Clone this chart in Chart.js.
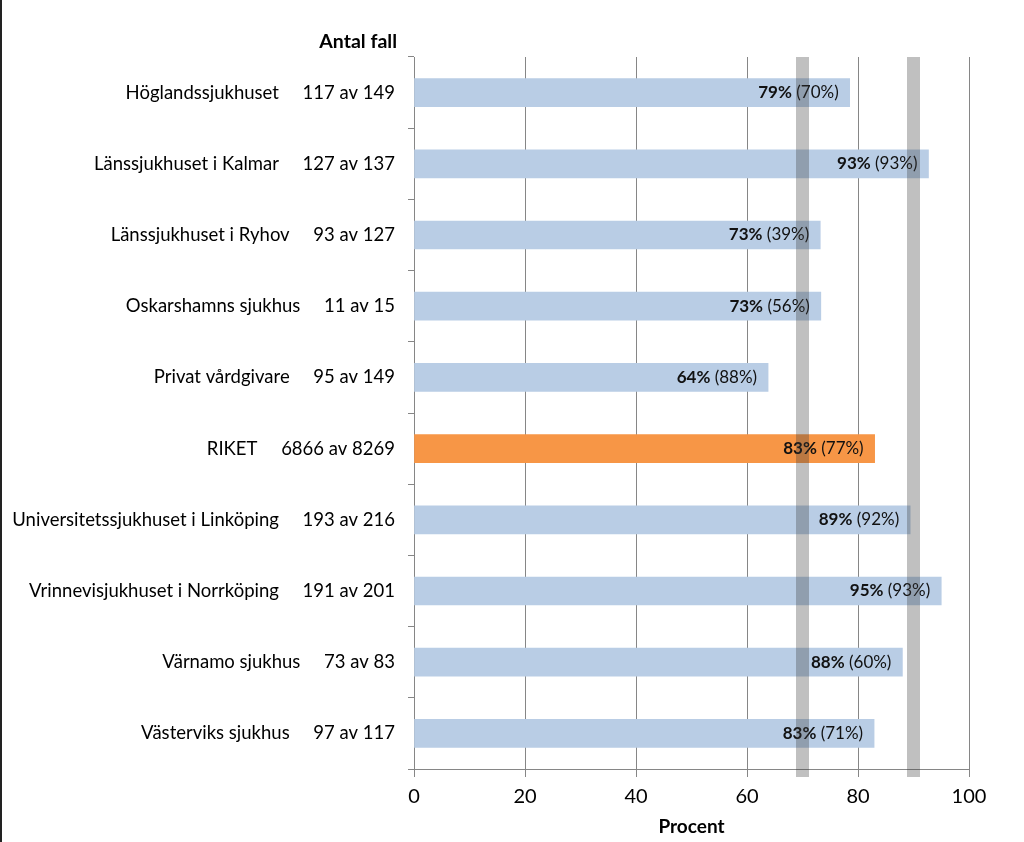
<!DOCTYPE html>
<html>
<head>
<meta charset="utf-8">
<script src="https://cdn.jsdelivr.net/npm/chart.js@4"></script>
<style>
  html, body { margin: 0; padding: 0; background: #fff; }
  #wrap { width: 1024px; height: 842px; position: relative; box-sizing: border-box; border-left: 2px solid #222; }
</style>
</head>
<body>
<div id="wrap"><canvas id="c" width="1022" height="842"></canvas></div>
<script>
var units = ["Höglandssjukhuset", "Länssjukhuset i Kalmar", "Länssjukhuset i Ryhov", "Oskarshamns sjukhus",
  "Privat vårdgivare", "RIKET", "Universitetssjukhuset i Linköping", "Vrinnevisjukhuset i Norrköping",
  "Värnamo sjukhus", "Västerviks sjukhus"];
var cases = ["117 av 149", "127 av 137", "93 av 127", "11 av 15", "95 av 149", "6866 av 8269",
  "193 av 216", "191 av 201", "73 av 83", "97 av 117"];
var percent = [78.5, 92.7, 73.2, 73.3, 63.8, 83.0, 89.4, 95.0, 88.0, 82.9];
var shownPct = [79, 93, 73, 73, 64, 83, 89, 95, 88, 83];
var prevPct = [70, 93, 39, 56, 88, 77, 92, 93, 60, 71];
var targets = [70, 90];
var xTicks = [0, 20, 40, 60, 80, 100];

var FONT = "Lato, 'Open Sans', sans-serif";
var labels = units.map(function (u, i) { return u + "     " + cases[i]; });
var colors = units.map(function (u) { return u === "RIKET" ? "#f79646" : "#b9cde5"; });

// text at the end of each bar: bold value + (previous)
var barText = {
  id: "barText",
  afterDatasetsDraw: function (chart) {
    var ctx = chart.ctx;
    var meta = chart.getDatasetMeta(0);
    ctx.save();
    ctx.textBaseline = "middle";
    ctx.fillStyle = "#111";
    meta.data.forEach(function (bar, i) {
      var a = shownPct[i] + "%";
      var b = " (" + prevPct[i] + "%)";
      ctx.font = "17px " + FONT;
      var wb = ctx.measureText(b).width;
      ctx.font = "bold 17px " + FONT;
      var wa = ctx.measureText(a).width;
      var xEnd = bar.x - 11;
      ctx.textAlign = "left";
      ctx.fillText(a, xEnd - wb - wa, bar.y);
      ctx.font = "17px " + FONT;
      ctx.fillText(b, xEnd - wb, bar.y);
    });
    ctx.restore();
  }
};

// grey target bands + header
var extras = {
  id: "extras",
  afterDraw: function (chart) {
    var ctx = chart.ctx;
    var area = chart.chartArea;
    var x = chart.scales.x;
    ctx.save();
    ctx.fillStyle = "rgba(60,60,60,0.32)";
    targets.forEach(function (t) {
      var px = x.getPixelForValue(t);
      ctx.fillRect(px - 6.5, area.top, 13, area.bottom + 8 - area.top);
    });
    ctx.fillStyle = "#000";
    ctx.font = "bold 19.5px " + FONT;
    ctx.textAlign = "right";
    ctx.textBaseline = "middle";
    ctx.fillText("Antal fall", 395, 42);
    ctx.restore();
  }
};

new Chart(document.getElementById("c"), {
  type: "bar",
  data: {
    labels: labels,
    datasets: [{
      data: percent,
      backgroundColor: colors,
      borderWidth: 0,
      barThickness: 28
    }]
  },
  options: {
    indexAxis: "y",
    responsive: false,
    animation: false,
    layout: { padding: { top: 57, right: 55, bottom: 2, left: 0 } },
    plugins: { legend: { display: false }, tooltip: { enabled: false } },
    scales: {
      x: {
        min: 0, max: 100,
        afterBuildTicks: function (s) { s.ticks = xTicks.map(function (v) { return { value: v }; }); },
        grid: { color: "#868686", tickLength: 8, drawOnChartArea: true },
        border: { color: "#868686" },
        ticks: { color: "#000", font: { family: FONT, size: 20 }, padding: 8 },
        title: { display: true, text: "Procent", color: "#000", font: { family: FONT, size: 19, weight: "bold" }, padding: { top: 2, bottom: 2 } },
        afterFit: function (s) { s.height = 71; }
      },
      y: {
        grid: { drawOnChartArea: false, color: "#868686", tickLength: 6, offset: true },
        border: { color: "#868686" },
        ticks: { color: "#000", font: { family: FONT, size: 18.5 }, padding: 13, autoSkip: false },
        afterFit: function (s) { s.width = 412; }
      }
    }
  },
  plugins: [barText, extras]
});
</script>
</body>
</html>
